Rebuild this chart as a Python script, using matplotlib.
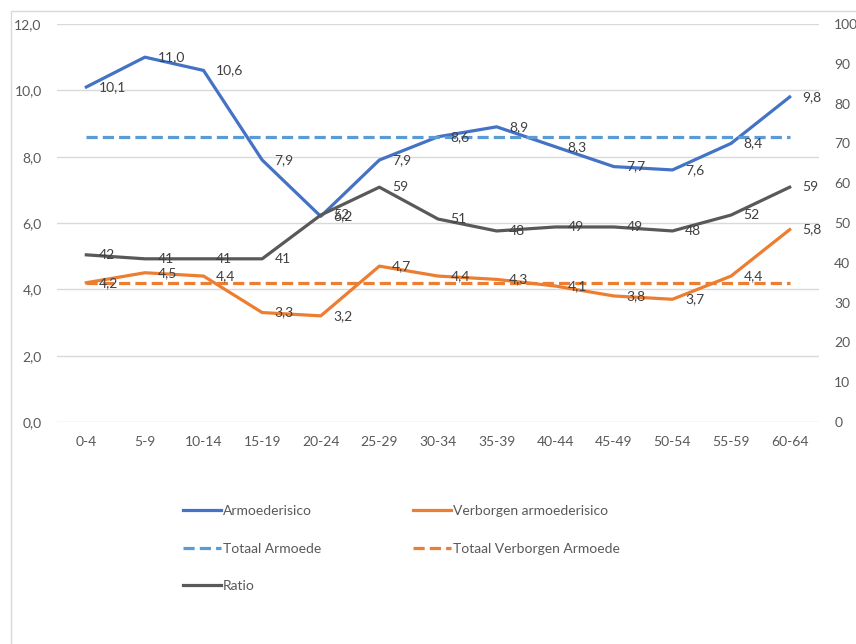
import matplotlib.pyplot as plt
from matplotlib.patches import Rectangle

plt.rcParams['font.family'] = ['Lato', 'DejaVu Sans']

# --- data ---
ages = ["0-4", "5-9", "10-14", "15-19", "20-24", "25-29", "30-34",
        "35-39", "40-44", "45-49", "50-54", "55-59", "60-64"]
armoede = [10.1, 11.0, 10.6, 7.9, 6.2, 7.9, 8.6, 8.9, 8.3, 7.7, 7.6, 8.4, 9.8]
verborgen = [4.2, 4.5, 4.4, 3.3, 3.2, 4.7, 4.4, 4.3, 4.1, 3.8, 3.7, 4.4, 5.8]
totaal_armoede = 8.6
totaal_verborgen = 4.2
ratio = [42, 41, 41, 41, 52, 59, 51, 48, 49, 49, 48, 52, 59]

BLUE = "#4472C4"
ORANGE = "#ED7D31"
LBLUE = "#5B9BD5"
GREY = "#595959"
TXT = "#595959"
LBL = "#404040"

fig = plt.figure(figsize=(8.56, 6.44), dpi=100)
# chart border (cut off at right/bottom like the reference)
fig.patches.append(Rectangle((11 / 856, -0.1), 1.2, 1 - 11 / 644 + 0.1,
                             transform=fig.transFigure, fill=False,
                             edgecolor="#D9D9D9", lw=1))

ax = fig.add_axes([57 / 856, 1 - 422 / 644, (819 - 57) / 856, (422 - 24) / 644])
ax2 = ax.twinx()

x = list(range(len(ages)))
lw = 2.3
dash = (0, (3.5, 1.6))

l1, = ax.plot(x, armoede, color=BLUE, lw=lw, solid_joinstyle="round", zorder=3)
l2, = ax.plot(x, verborgen, color=ORANGE, lw=lw, solid_joinstyle="round", zorder=3)
l3, = ax.plot(x, [totaal_armoede] * len(x), color=LBLUE, lw=lw, ls=dash, zorder=3)
l4, = ax.plot(x, [totaal_verborgen] * len(x), color=ORANGE, lw=lw, ls=dash, zorder=3)
l5, = ax2.plot(x, ratio, color=GREY, lw=lw, solid_joinstyle="round", zorder=3)

def fmt(v):
    return f"{v:.1f}".replace(".", ",")

for xi, v in zip(x, armoede):
    ax.annotate(fmt(v), (xi, v), xytext=(9, 0), textcoords="offset points",
                va="center", ha="left", fontsize=10, color=LBL, zorder=5)
for xi, v in zip(x, verborgen):
    ax.annotate(fmt(v), (xi, v), xytext=(9, 0), textcoords="offset points",
                va="center", ha="left", fontsize=10, color=LBL, zorder=5)
for xi, v in zip(x, ratio):
    ax2.annotate(str(v), (xi, v), xytext=(9, 0), textcoords="offset points",
                 va="center", ha="left", fontsize=10, color=LBL, zorder=5)

ax.set_xlim(-0.5, len(ages) - 0.5)
ax.set_ylim(0, 12)
ax.set_yticks([0, 2, 4, 6, 8, 10, 12])
ax.set_yticklabels([fmt(v) for v in [0, 2, 4, 6, 8, 10, 12]])
ax.set_xticks(x)
ax.set_xticklabels(ages)
ax2.set_ylim(0, 100)
ax2.set_yticks(range(0, 101, 10))

ax.grid(axis="y", color="#D9D9D9", lw=1)
ax.set_axisbelow(True)
for a in (ax, ax2):
    for s in a.spines.values():
        s.set_visible(False)
ax.tick_params(axis="y", length=0, pad=11, labelsize=10, labelcolor=TXT)
ax.tick_params(axis="x", length=0, pad=10, labelsize=10, labelcolor=TXT)
ax2.tick_params(axis="y", length=0, pad=11, labelsize=10, labelcolor=TXT)

fig.legend([l1, l3, l5, l2, l4],
           ["Armoederisico", "Totaal Armoede", "Ratio",
            "Verborgen armoederisico", "Totaal Verborgen Armoede"],
           ncol=2, loc="upper left", bbox_to_anchor=(176 / 856, 1 - 498 / 644),
           frameon=False, borderpad=0, fontsize=10, labelcolor=TXT,
           handlelength=2.75, handletextpad=0.15, columnspacing=6.6,
           labelspacing=1.85)

fig.savefig("out.png", dpi=100)
